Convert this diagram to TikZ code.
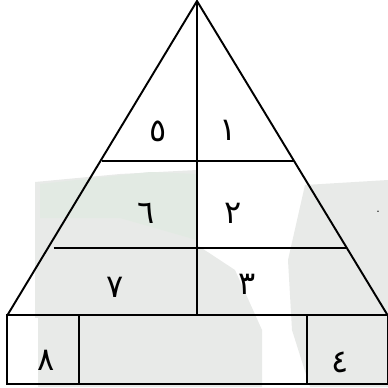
\documentclass[tikz,border=0pt]{standalone}
\usepackage{fontspec}
\newfontfamily\arabicfont[Script=Arabic]{DejaVu Sans}
\definecolor{wm}{RGB}{232,234,232}
\definecolor{wmg}{RGB}{226,234,227}
\begin{document}
\begin{tikzpicture}[x=0.75pt,y=-0.75pt,
  edge/.style={line width=1.45pt,black},
  num/.style={font=\arabicfont\fontsize{24}{24}\selectfont,inner sep=0pt}]
\useasboundingbox (0,0) rectangle (388,387);
\fill[white] (0,0) rectangle (388,387);
% faint watermark background
\fill[wm] (35,182) -- (120,174) -- (197,170) -- (197,387) -- (35,387) -- cycle;
\fill[wmg] (40,184) -- (150,172) -- (197,174) -- (197,240) -- (120,218) -- (40,218) -- cycle;
\fill[wm] (197,245) -- (235,270) -- (262,330) -- (262,387) -- (197,387) -- cycle;
\fill[wm] (305,185) -- (388,180) -- (388,387) -- (310,387) -- (292,330) -- (288,260) -- cycle;
\fill[white] (8,318) rectangle (38,387);
% pyramid
\coordinate (apex) at (197,1);
\coordinate (bl) at (7.5,315);
\coordinate (br) at (387.5,315);
\coordinate (mb) at (197,315);
\coordinate (h1l) at (101.5,160.7);
\coordinate (h1r) at (293.5,160.7);
\coordinate (h2l) at (53.5,248.3);
\coordinate (h2r) at (347,248.3);
\draw[edge,line join=miter] (bl) -- (apex) -- (br);
\draw[edge] (apex) -- (mb);
\draw[edge] (h1l) -- (h1r);
\draw[edge] (h2l) -- (h2r);
% base boxes
\coordinate (r1) at (6.7,315);
\coordinate (r2) at (387.5,384);
\draw[edge] (r1) rectangle (r2);
\coordinate (d1t) at (78.7,315);
\coordinate (d1b) at (78.7,384);
\coordinate (d2t) at (306.7,315);
\coordinate (d2b) at (306.7,384);
\draw[edge] (d1t) -- (d1b);
\draw[edge] (d2t) -- (d2b);
% labels
\node[num] (n5) at (158,131) {٥};
\node[num] (n1) at (228,130) {١};
\node[num] (n6) at (146,213) {٦};
\node[num] (n2) at (233,213) {٢};
\node[num] (n7) at (115,287) {٧};
\node[num] (n3) at (247,284) {٣};
\node[num] (n8) at (46,360) {٨};
\node[num] (n4) at (340,362) {٤};
\node[font=\fontsize{11}{11}\selectfont,inner sep=0pt] (dot) at (378,212) {.};
\end{tikzpicture}
\end{document}
